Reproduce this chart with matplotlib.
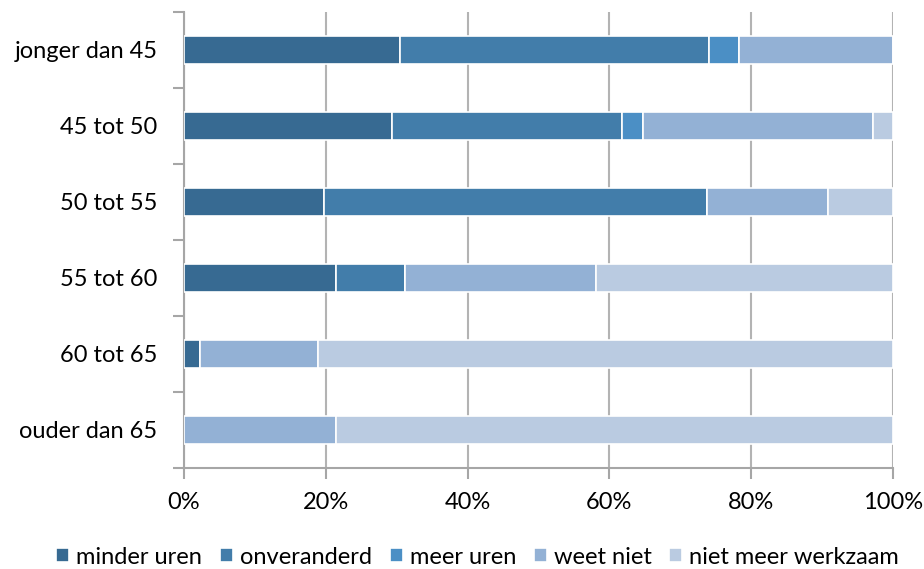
import numpy as np
import matplotlib
matplotlib.use("Agg")
import matplotlib.pyplot as plt
from matplotlib.ticker import FixedLocator, PercentFormatter

plt.rcParams["font.family"] = ["Lato", "DejaVu Sans"]

# -----------------------------
# Data (percent per age group)
# -----------------------------
groups = ["jonger dan 45", "45 tot 50", "50 tot 55", "55 tot 60", "60 tot 65", "ouder dan 65"]
series = ["minder uren", "onveranderd", "meer uren", "weet niet", "niet meer werkzaam"]

minder_uren = [30.5, 29.3, 19.7, 21.4, 2.3, 0.0]
onveranderd = [43.5, 32.5, 54.1, 9.8, 0.0, 0.0]
meer_uren = [4.3, 2.9, 0.0, 0.0, 0.0, 0.0]
weet_niet = [21.7, 32.5, 17.0, 26.9, 16.6, 21.4]
niet_meer_werkzaam = [0.0, 2.8, 9.2, 41.9, 81.1, 78.6]

colors = ["#376A92", "#427DAA", "#4B8FC5", "#93B1D5", "#BACBE1"]

values = [minder_uren, onveranderd, meer_uren, weet_niet, niet_meer_werkzaam]

# -----------------------------
# Plot
# -----------------------------
fig = plt.figure(figsize=(9.24, 5.69), dpi=100)
ax = fig.add_axes([0.199, 0.1775, 0.7675, 0.8015])

y = np.arange(len(groups))
left = np.zeros(len(groups))
for name, vals, col in zip(series, values, colors):
    vals = np.array(vals)
    ax.barh(y, vals, left=left, height=0.38, color=col, edgecolor="white",
            linewidth=1.2, label=name, zorder=3)
    left += vals

ax.set_xlim(0, 100)
ax.set_ylim(len(groups) - 0.5, -0.5)
ax.set_xticks(np.arange(0, 101, 20))
ax.xaxis.set_major_formatter(PercentFormatter(decimals=0))
ax.grid(axis="x", color="#B3B3B3", linewidth=1.5, zorder=0)

ax.set_yticks(y)
ax.set_yticklabels(groups)
ax.yaxis.set_minor_locator(FixedLocator(np.arange(-0.5, len(groups), 1)))
ax.tick_params(axis="y", which="major", length=0, pad=19, labelsize=17)
ax.tick_params(axis="y", which="minor", length=8, width=1.5, color="#A6A6A6")
ax.tick_params(axis="x", length=8, width=1.5, color="#A6A6A6", pad=9, labelsize=17)

for side in ["top", "right"]:
    ax.spines[side].set_visible(False)
for side in ["left", "bottom"]:
    ax.spines[side].set_color("#A6A6A6")
    ax.spines[side].set_linewidth(1.5)

fig.legend(loc="lower center", bbox_to_anchor=(0.517, -0.035), ncol=5,
           frameon=False, fontsize=17, handlelength=0.55, handleheight=0.55,
           handletextpad=0.3, columnspacing=0.75)

fig.savefig("out.png", dpi=100)
